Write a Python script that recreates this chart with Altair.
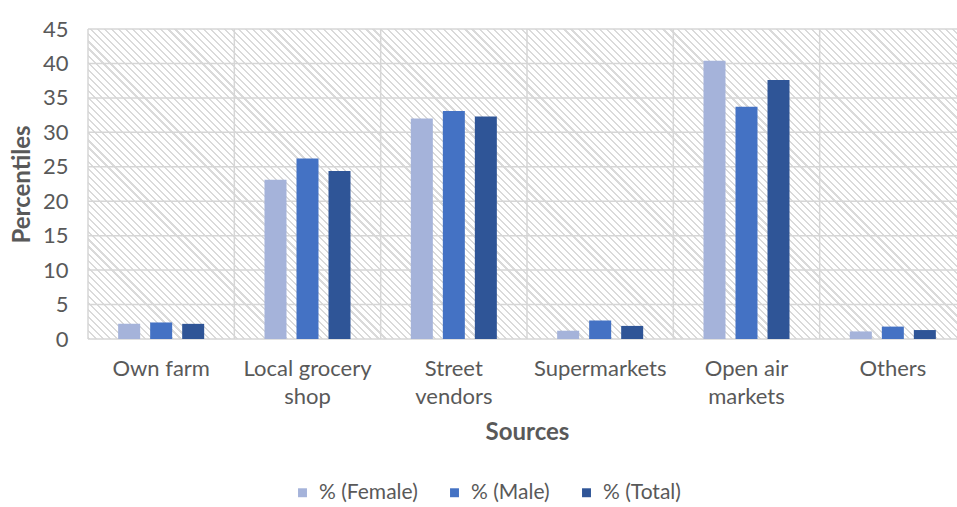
import altair as alt
import pandas as pd

categories = ["Own farm", "Local grocery shop", "Street vendors", "Supermarkets", "Open air markets", "Others"]
label_lines = [["Own farm"], ["Local grocery", "shop"], ["Street", "vendors"], ["Supermarkets"], ["Open air", "markets"], ["Others"]]
series = ["% (Female)", "% (Male)", "% (Total)"]
female = [2.2, 23.1, 32.0, 1.2, 40.4, 1.1]
male = [2.4, 26.2, 33.1, 2.7, 33.7, 1.8]
total = [2.2, 24.4, 32.3, 1.9, 37.6, 1.3]
colors = ["#a5b3da", "#4472c4", "#2f5597"]
y_ticks = [0, 5, 10, 15, 20, 25, 30, 35, 40, 45]

rows = []
for s, vals in zip(series, [female, male, total]):
    for c, v in zip(categories, vals):
        rows.append({"source": c, "series": s, "value": v})
df = pd.DataFrame(rows)
grid_y = pd.DataFrame({"value": y_ticks})
grid_x = pd.DataFrame({"source": categories})

FONT = "Lato"
GRAY = "#595959"
GRID = "#d6d6d6"
PLOT_W = 878  # full category range (right part is cropped by the window)
VIEW_W = 869
VIEW_H = 310

# label expression for multi-line category labels
expr = "datum.label"
for c, lines in zip(categories, label_lines):
    arr = "[" + ",".join("'" + l + "'" for l in lines) + "]"
    expr = f"datum.value == '{c}' ? {arr} : ({expr})"

# diagonal hatch as a gradient (style only)
W, H = PLOT_W, VIEW_H
t = (W + H) / (W * W + H * H)
x2g, y2g = t * W, 1 - t * H
diag = (W + H) / 2 ** 0.5
period = 5.0 / diag
stripe = 0.3 * period
clear = "#ffffff"
ink = "#dadada"
stops = []
k = 0
while True:
    s0 = k * period
    s1 = s0 + stripe
    if s1 >= 1:
        break
    stops += [alt.GradientStop(offset=s0, color=clear), alt.GradientStop(offset=s0, color=ink),
              alt.GradientStop(offset=s1, color=ink), alt.GradientStop(offset=s1, color=clear)]
    k += 1
stops.append(alt.GradientStop(offset=1, color=clear))
hatch_fill = alt.LinearGradient(gradient="linear", stops=stops, x1=0, y1=1, x2=x2g, y2=y2g)

x_scale = alt.Scale(domain=categories, range=[0, PLOT_W], paddingInner=0, paddingOuter=0)
y_scale = alt.Scale(domain=[0, 45], nice=False)
x_axis = alt.Axis(title="Sources", labelAngle=0, labelExpr=expr, labelFont=FONT,
                  labelFontSize=22, labelColor=GRAY, labelPadding=19, labelLineHeight=28,
                  labelBaseline="top",
                  titleFont=FONT, titleFontSize=24, titleFontWeight="bold", titleColor=GRAY,
                  titleX=PLOT_W / 2, titleY=93, titleBaseline="middle",
                  ticks=False, domain=False, grid=False)
y_axis = alt.Axis(title="Percentiles", values=y_ticks, labelFont=FONT, labelFontSize=22,
                  labelColor=GRAY, labelPadding=20, ticks=False, domain=False, grid=False,
                  titleFont=FONT, titleFontSize=24, titleFontWeight="bold", titleColor=GRAY,
                  titleX=-66, titleY=VIEW_H / 2, titleAngle=270, titleAlign="center",
                  titleBaseline="middle")

hatch = alt.Chart(df).mark_rect(fill=hatch_fill).encode(
    x=alt.value(0), x2=alt.value(PLOT_W), y=alt.value(0), y2=alt.value(VIEW_H)
)

hgrid = alt.Chart(grid_y).mark_rule(color=GRID, strokeWidth=1.5).encode(
    x=alt.value(0), x2=alt.value(PLOT_W),
    y=alt.Y("value:Q", scale=y_scale, axis=y_axis),
)

vgrid = alt.Chart(grid_x).mark_rule(color=GRID, strokeWidth=1.5).encode(
    x=alt.X("source:N", sort=categories, scale=x_scale, axis=x_axis, bandPosition=0),
    y=alt.value(0), y2=alt.value(VIEW_H),
)

bars = alt.Chart(df).mark_bar().encode(
    x=alt.X("source:N", sort=categories, scale=x_scale, axis=x_axis),
    xOffset=alt.XOffset("series:N", sort=series,
                        scale=alt.Scale(paddingInner=0.3125, paddingOuter=0.942)),
    y=alt.Y("value:Q", scale=y_scale, axis=y_axis),
    color=alt.Color("series:N", sort=series, scale=alt.Scale(domain=series, range=colors),
                    legend=alt.Legend(title=None, orient="none", legendX=204, legendY=453,
                                      direction="horizontal", symbolType="square", symbolSize=80,
                                      labelFont=FONT, labelFontSize=21, labelColor=GRAY,
                                      columnPadding=26, labelOffset=6, symbolStrokeWidth=0)),
)

chart = alt.layer(hatch, hgrid, vgrid, bars).properties(
    width=VIEW_W, height=VIEW_H,
    autosize=alt.AutoSizeParams(type="none"),
    padding={"left": 88, "top": 29, "right": 0, "bottom": 168},
    background="white",
).configure_view(stroke=None)

chart.save("out.html", embed_options={"renderer": "svg", "actions": False})
